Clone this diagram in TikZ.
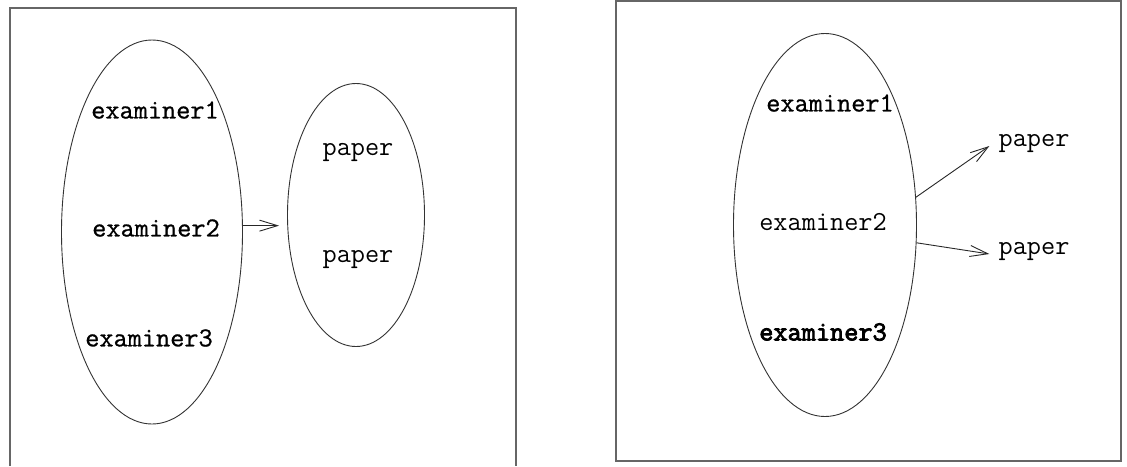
\documentclass[tikz,border=0pt]{standalone}
\usepackage{fontspec}
\newfontfamily\lbltt{Latin Modern Mono}
\newfontfamily\lblttmed{Latin Modern Mono}[FakeBold=0.8]
\newfontfamily\lblttbold{Latin Modern Mono}[FakeBold=3]
\usepackage{tikz}
\usetikzlibrary{shapes,arrows.meta,positioning}

\begin{document}
\begin{tikzpicture}[x=1pt, y=-1pt,
        frame/.style={draw=black!60, line width=1.4pt},
        set/.style={ellipse, draw=black!80, line width=0.9pt, inner sep=0pt},
        item/.style={inner sep=0pt, font=\fontsize{27.5}{32}\selectfont\lbltt},
        itemmed/.style={item, font=\fontsize{27.5}{32}\selectfont\lblttmed},
        itembold/.style={item, font=\fontsize{27.5}{32}\selectfont\lblttbold},
        arrow/.style={-{Straight Barb[length=18pt, width=11pt]}, line width=0.9pt, black!85}]
        \useasboundingbox (0,0) rectangle (1127,466);

        % Left panel (frame runs off the bottom)
        \draw[frame] (10,466) -- (10,8) -- (516,8) -- (516,466);
        \node[set, minimum width=181, minimum height=384] (examiners) at (152,232) {};
        \node[set, minimum width=137, minimum height=263] (papers) at (356,215) {};
        \node[itemmed] (exA) at (155,110) {examiner1};
        \node[itemmed] (exB) at (156,228) {examiner2};
        \node[itemmed] (exC) at (149,338) {examiner3};
        \node[item] (papA) at (358,152) {paper};
        \node[item] (papB) at (358,259) {paper};
        \draw[arrow, shorten >=8pt] (examiners.4) -- (examiners.4 -| papers.west);

        % Right panel
        \draw[frame] (616,1) rectangle (1121,461);
        \node[set, minimum width=183, minimum height=383] (examinersR) at (825,225) {};
        \node[itemmed] (exAR) at (830,103) {examiner1};
        \node[item] (exBR) at (823,222) {examiner2};
        \node[itembold] (exCR) at (823,332) {examiner3};
        \node[item, inner xsep=9pt] (papAR) at (1034,143) {paper};
        \node[item, inner xsep=9pt] (papBR) at (1034,251) {paper};
        \draw[arrow] (examinersR.17) -- (papAR.base west);
        \draw[arrow] (examinersR.-11) -- (papBR.base west);
    \end{tikzpicture}
\end{document}
